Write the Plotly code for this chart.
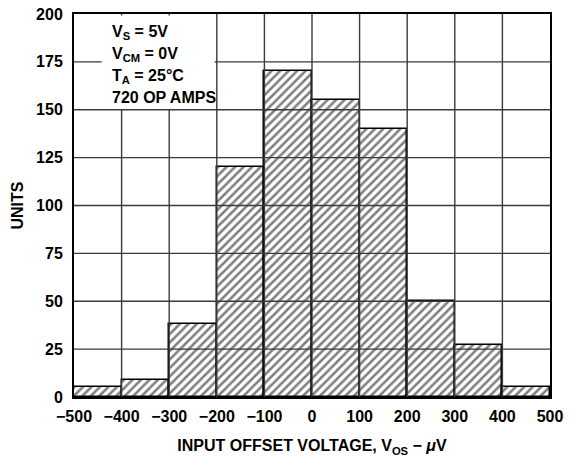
import plotly.graph_objects as go

bin_centers = [-450, -350, -250, -150, -50, 50, 150, 250, 350, 450]
counts = [5, 9, 38, 120, 170, 155, 140, 50, 27, 5]
x_ticks = [-500, -400, -300, -200, -100, 0, 100, 200, 300, 400, 500]
y_ticks = [0, 25, 50, 75, 100, 125, 150, 175, 200]
info_lines = ["V<sub>S</sub> = 5V", "V<sub>CM</sub> = 0V", "T<sub>A</sub> = 25°C", "720 OP AMPS"]

FONT = "Liberation Sans"
FS = 16
L, R, T, B = 74, 14, 6, 61
W, H = 569, 458
PW, PH = W - L - R, H - T - B

fig = go.Figure()
fig.add_trace(go.Bar(
    x=bin_centers, y=counts, width=100,
    marker=dict(color="white", line=dict(color="black", width=1.5),
                pattern=dict(shape="/", fgcolor="black", bgcolor="white", size=6, solidity=0.42)),
    showlegend=False, hoverinfo="skip",
))

shapes = []
for xv in x_ticks[1:-1]:
    shapes.append(dict(type="line", xref="x", yref="y", x0=xv, x1=xv, y0=y_ticks[0], y1=y_ticks[-1],
                       line=dict(color="#3a3a3a", width=1.4), layer="above"))
for yv in y_ticks[1:-1]:
    shapes.append(dict(type="line", xref="x", yref="y", x0=x_ticks[0], x1=x_ticks[-1], y0=yv, y1=yv,
                       line=dict(color="#3a3a3a", width=1.4), layer="above"))
# white label box
shapes.append(dict(type="rect", xref="paper", yref="paper", x0=(102 - L) / PW, x1=(216 - L) / PW,
                   y0=(H - B - 103) / PH, y1=0.996,
                   fillcolor="white", line=dict(width=0), layer="above"))

annotations = []
line_y = [25, 47, 70, 91]
for txt, py in zip(info_lines, line_y):
    annotations.append(dict(text=txt, xref="paper", yref="paper", x=(110 - L) / PW, y=(H - B - py) / PH,
                            xanchor="left", yanchor="middle", showarrow=False,
                            font=dict(family=FONT, size=FS, color="black", weight="bold")))

fig.update_layout(
    width=W, height=H,
    margin=dict(l=L, r=R, t=T, b=B),
    paper_bgcolor="white", plot_bgcolor="white",
    bargap=0,
    shapes=shapes, annotations=annotations,
    font=dict(family=FONT, size=FS, color="black", weight="bold"),
    xaxis=dict(range=[-500, 500], tickvals=x_ticks, showgrid=False, zeroline=False,
               showline=True, linecolor="black", linewidth=2, mirror=True,
               ticks="outside", ticklen=4, tickcolor="white", ticklabeloverflow="allow",
               tickfont=dict(family=FONT, size=FS, weight="bold"),
               title=dict(text="INPUT OFFSET VOLTAGE, V<sub>OS</sub> − <i>μ</i>V", standoff=16,
                          font=dict(family=FONT, size=FS, weight="bold"))),
    yaxis=dict(range=[0, 200], tickvals=y_ticks, showgrid=False, zeroline=False,
               showline=True, linecolor="black", linewidth=2, mirror=True,
               ticks="outside", ticklen=6, tickcolor="white", ticklabeloverflow="allow",
               tickfont=dict(family=FONT, size=FS, weight="bold"),
               title=dict(text="UNITS", standoff=8, font=dict(family=FONT, size=FS, weight="bold"))),
)
fig.write_html("out.html", config={"displayModeBar": False},
               post_script="document.body.style.margin='0';document.body.style.padding='0';")
